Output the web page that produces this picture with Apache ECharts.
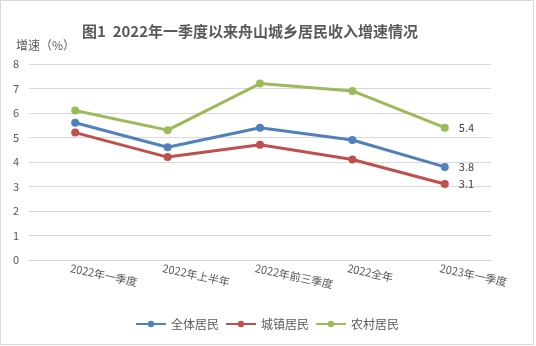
<!DOCTYPE html>
<html><head><meta charset="utf-8">
<script src="https://cdn.jsdelivr.net/npm/echarts@6/dist/echarts.min.js"></script>
<style>
html,body{margin:0;padding:0;background:#fff;}
#c{width:534px;height:345px;box-sizing:border-box;border:1px solid #d9d9d9;}
</style></head>
<body><div id="c"></div>
<script>
const categories = ['2022年一季度','2022年上半年','2022年前三季度','2022全年','2023年一季度'];
const seriesNames = ['全体居民','城镇居民','农村居民'];
const allResidents = [5.6, 4.6, 5.4, 4.9, 3.8];
const urbanResidents = [5.2, 4.2, 4.7, 4.1, 3.1];
const ruralResidents = [6.1, 5.3, 7.2, 6.9, 5.4];
const yTicks = [0,1,2,3,4,5,6,7,8];

const colors = ['#4F81BD','#C0504D','#9BBB59'];
const font = '"Noto Sans CJK SC", "Microsoft YaHei", sans-serif';
const chart = echarts.init(document.getElementById('c'), null, {renderer:'canvas'});
function mk(name, data, color){
  return {
    name, type:'line', data, color,
    symbol:'circle', symbolSize:8,
    lineStyle:{width:3, color},
    itemStyle:{color},
    label:{show:true, position:'right', distance:10, color:'#404040', fontSize:11, fontFamily:font,
      formatter:(p)=> p.dataIndex === data.length-1 ? p.value.toFixed(1) : ''},
    emphasis:{disabled:true}
  };
}
chart.setOption({
  animation:false,
  textStyle:{fontFamily:font},
  title:[{
    text:'图1  2022年一季度以来舟山城乡居民收入增速情况',
    left:76, top:18,
    textStyle:{fontSize:15, fontWeight:'bold', color:'#595959', fontFamily:font}
  },{
    text:'增速（%）', left:10, top:33,
    textStyle:{fontSize:12, fontWeight:'normal', color:'#595959', fontFamily:font}
  }],
  legend:{
    bottom:9, left:'center', itemWidth:30, itemHeight:8, itemGap:6,
    data:seriesNames,
    textStyle:{fontSize:12, color:'#595959', fontFamily:font}
  },
  grid:{left:28, right:42, top:63, bottom:84, containLabel:false},
  xAxis:{
    type:'category', data:categories, boundaryGap:true,
    axisLine:{show:true, lineStyle:{color:'#d9d9d9'}},
    axisTick:{show:false},
    axisLabel:{rotate:-12, margin:9, fontSize:11, color:'#595959', interval:0, fontFamily:font, align:'left',
      padding:[0,0,0,-5]}
  },
  yAxis:{
    type:'value', min:yTicks[0], max:yTicks[yTicks.length-1], interval:1,
    axisLine:{show:false}, axisTick:{show:false},
    splitLine:{lineStyle:{color:'#d9d9d9', width:1}},
    axisLabel:{fontSize:11, color:'#595959', margin:10, fontFamily:font}
  },
  series:[mk(seriesNames[0], allResidents, colors[0]), mk(seriesNames[1], urbanResidents, colors[1]), mk(seriesNames[2], ruralResidents, colors[2])]
});
</script></body></html>
